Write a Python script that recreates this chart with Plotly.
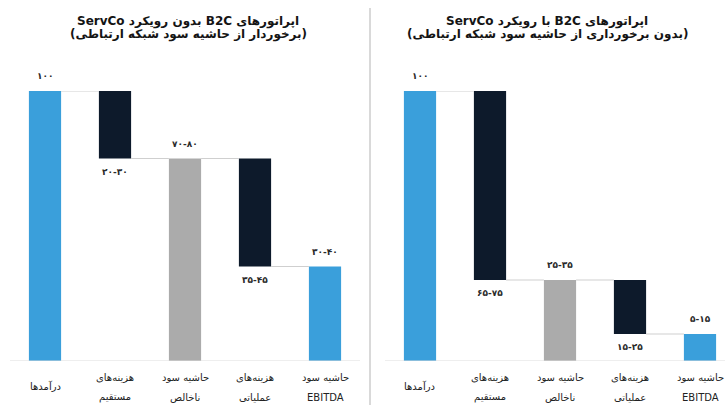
import plotly.graph_objects as go

# Category names (two-line labels split on <br>)
categories = [
    "درآمدها",
    "هزینه‌های<br>مستقیم",
    "حاشیه سود<br>ناخالص",
    "هزینه‌های<br>عملیاتی",
    "حاشیه سود<br>EBITDA",
]

# Step kind of each bar: absolute start, relative change, subtotal
measures = ["absolute", "relative", "total", "relative", "total"]

# Left panel: B2C operators without the ServCo approach
left_title = ["اپراتورهای B2C بدون رویکرد ServCo",
              "(برخوردار از حاشیه سود شبکه ارتباطی)"]
left_values = [100, -25, 75, -40, 35]
left_labels = ["۱۰۰", "۲۰-۳۰", "۷۰-۸۰", "۳۵-۴۵", "۳۰-۴۰"]

# Right panel: B2C operators with the ServCo approach
right_title = ["اپراتورهای B2C با رویکرد ServCo",
               "(بدون برخورداری از حاشیه سود شبکه ارتباطی)"]
right_values = [100, -70, 30, -20, 10]
right_labels = ["۱۰۰", "۶۵-۷۵", "۲۵-۳۵", "۱۵-۲۵", "۵-۱۵"]

BLUE = "#3a9fdb"
NAVY = "#0d1a2b"
GREY = "#ababab"
FONT = "DejaVu Sans, Noto Sans, sans-serif"
W, H = 725, 411
BAR_W = 0.46


def rtl(s):
    return "\u202b" + s + "\u202c"


def bars_from_steps(values, kinds):
    """Turn waterfall steps into (base, height, colour) per bar."""
    bases, heights, colors, levels = [], [], [], []
    level = 0
    for i, (v, k) in enumerate(zip(values, kinds)):
        if k == "absolute":
            level = v
            bases.append(0); heights.append(v)
            colors.append(BLUE)
        elif k == "relative":
            new = level + v
            bases.append(min(level, new)); heights.append(abs(v))
            colors.append(NAVY)
            level = new
        else:
            bases.append(0); heights.append(level)
            colors.append(BLUE if i == len(values) - 1 else GREY)
        levels.append(level)
    return bases, heights, colors, levels


fig = go.Figure()
shapes, annotations = [], []

panels = [
    ("x", "y", left_values, left_labels, left_title, [10 / W, 360 / W], [-0.5, 4.5], 188 / W),
    ("x2", "y2", right_values, right_labels, right_title, [385 / W, 1.0], [-0.5, -0.5 + 340 / 70], 547 / W),
]

y_domain = [(H - 361) / H, (H - 91) / H]

for xa, ya, values, labels, title, xdom, xrng, tx in panels:
    xs = list(range(len(categories)))
    bases, heights, colors, levels = bars_from_steps(values, measures)
    fig.add_trace(go.Bar(
        x=xs, y=heights, base=bases, marker=dict(color=colors, line=dict(width=0)),
        width=BAR_W, xaxis=xa, yaxis=ya, showlegend=False, hoverinfo="skip",
    ))

    # baseline
    shapes.append(dict(type="line", xref=xa, yref=ya, x0=xrng[0], x1=xrng[1], y0=0, y1=0,
                       line=dict(color="#dddddd", width=1)))
    # connectors between consecutive bars
    for i in range(len(xs) - 1):
        shapes.append(dict(type="line", xref=xa, yref=ya,
                           x0=xs[i] + BAR_W / 2, x1=xs[i + 1] - BAR_W / 2,
                           y0=levels[i], y1=levels[i],
                           line=dict(color="#cfcfcf", width=1)))

    # value labels: above totals, below cost bars
    for i, (lab, k) in enumerate(zip(labels, measures)):
        if k == "relative":
            yv, shift = bases[i], -13
        else:
            yv, shift = bases[i] + heights[i], 15
        annotations.append(dict(x=xs[i], y=yv, xref=xa, yref=ya, text="<b>" + lab + "</b>",
                                showarrow=False, yshift=shift, yanchor="middle",
                                font=dict(family=FONT, size=9, color="#2a2a2a")))

    # category labels
    for i, cat in enumerate(categories):
        lines = cat.split("<br>")
        if len(lines) == 1:
            ys = [(H - 386) / H]
        else:
            ys = [(H - 377) / H, (H - 397) / H]
        for line, yy in zip(lines, ys):
            annotations.append(dict(x=xs[i], y=yy, xref=xa, yref="paper", text=rtl(line),
                                    showarrow=False, yanchor="middle",
                                    font=dict(family=FONT, size=10, color="#222222")))

    # panel title
    for line, py in zip(title, [21, 34]):
        annotations.append(dict(x=tx, y=(H - py) / H, xref="paper", yref="paper",
                                text="<b>" + rtl(line) + "</b>", showarrow=False,
                                yanchor="middle", xanchor="center",
                                font=dict(family=FONT, size=12, color="#141414")))

    axis_common = dict(visible=False, fixedrange=True)
    fig.update_layout(**{
        ("xaxis" if xa == "x" else "xaxis2"): dict(domain=xdom, range=xrng, anchor=ya, **axis_common),
        ("yaxis" if ya == "y" else "yaxis2"): dict(domain=y_domain, range=[0, 100], anchor=xa, **axis_common),
    })

# divider between the two panels
shapes.append(dict(type="line", xref="paper", yref="paper", x0=370 / W, x1=370 / W,
                   y0=(H - 405) / H, y1=(H - 8) / H, line=dict(color="#d9d9d9", width=2)))

fig.update_layout(
    width=W, height=H, margin=dict(l=0, r=0, t=0, b=0),
    paper_bgcolor="white", plot_bgcolor="white",
    barmode="overlay", shapes=shapes, annotations=annotations,
)

fig.write_html("out.html")
